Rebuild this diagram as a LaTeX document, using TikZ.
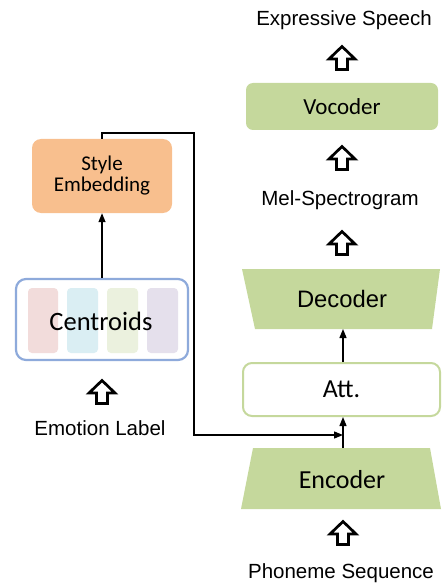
\documentclass[tikz,border=0pt]{standalone}
\usepackage{fontspec}
\setmainfont{Liberation Sans}
\newfontfamily\calfont{Carlito}
\usetikzlibrary{arrows.meta}
\definecolor{grn}{HTML}{C5D89C}
\definecolor{org}{HTML}{F8BF8E}
\definecolor{blu}{HTML}{8EAADB}
\definecolor{cpink}{HTML}{F2DCDB}
\definecolor{cblue}{HTML}{DAEEF3}
\definecolor{cgreen}{HTML}{EBF1DE}
\definecolor{cpurp}{HTML}{E5E0EC}
\tikzset{
  lbl/.style={inner sep=0pt, font=\fontsize{20.5}{24}\selectfont},
  conn/.style={line width=1.3pt, -{Triangle[length=9pt,width=7pt]}},
  hollow/.pic={\draw[line width=2.7pt, fill=white, line join=miter]
     (-5.5,11.5) -- (-5.5,1) -- (-13,1) -- (0,-11.5) -- (13,1) -- (5.5,1) -- (5.5,11.5) -- cycle;},
}
\begin{document}
\begin{tikzpicture}[x=1pt,y=-1pt]
\useasboundingbox (0,0) rectangle (441,585);
% right column
\node[lbl] (exp) at (344,20) {Expressive Speech};
\pic at (342,58) {hollow};
\node[fill=grn, rounded corners=7pt, minimum width=192pt, minimum height=47pt, inner sep=0pt,
      font=\calfont\fontsize{23}{26}\selectfont] (voc) at (342,106.5) {Vocoder};
\pic at (342,158) {hollow};
\node[lbl] (mel) at (340,200) {Mel-Spectrogram};
\pic at (342,243) {hollow};
\fill[grn] (242,269) -- (440,269) -- (432,329) -- (255,329) -- cycle;
\node[font=\fontsize{23.8}{26}\selectfont, inner sep=0pt] (dec) at (342,299) {Decoder};
\coordinate (decb) at (343,329);
\node[draw=grn, line width=2pt, rounded corners=9pt, fill=white, minimum width=197pt, minimum height=53pt,
      inner sep=0pt, font=\calfont\fontsize{26}{28}\selectfont] (att) at (341.5,389.5) {Att.};
\fill[grn] (253,448) -- (430,448) -- (441,509) -- (241,509) -- cycle;
\node[font=\calfont\fontsize{26}{28}\selectfont, inner sep=0pt] (enc) at (342,480) {Encoder};
\coordinate (enct) at (343,448);
\pic at (343,533) {hollow};
\node[lbl] (pho) at (341,573) {Phoneme Sequence};
% left column
\node[fill=org, rounded corners=9pt, minimum width=140pt, minimum height=74pt, inner sep=0pt,
      align=center, font=\calfont\fontsize{21}{21}\selectfont] (sty) at (102,176) {Style\\Embedding};
\node[draw=blu, line width=2.2pt, rounded corners=10pt, fill=white, minimum width=172pt, minimum height=81pt,
      inner sep=0pt] (cen) at (102,319.5) {};
\fill[cpink, rounded corners=4pt] (28,288) rectangle (58,353);
\fill[cblue, rounded corners=4pt] (67,288) rectangle (98,353);
\fill[cgreen, rounded corners=4pt] (107,288) rectangle (138,353);
\fill[cpurp, rounded corners=4pt] (147,288) rectangle (178,353);
\node[font=\calfont\fontsize{26.5}{28}\selectfont, inner sep=0pt] (centxt) at (101,321) {Centroids};
\pic at (102,392) {hollow};
\node[lbl] (emo) at (100,428) {Emotion Label};
% connectors
\draw[conn] (cen.north) -- (sty.south);
\coordinate (c1) at (102,133);
\coordinate (c2) at (194,133);
\coordinate (c3) at (194,435);
\coordinate (c4) at (343,435);
\draw[conn] (sty.north) -- (c1) -- (c2) -- (c3) -- (c4);
\draw[conn] (enct) -- (att.south -| enct);
\draw[conn] (att.north -| decb) -- (decb);
\end{tikzpicture}
\end{document}
